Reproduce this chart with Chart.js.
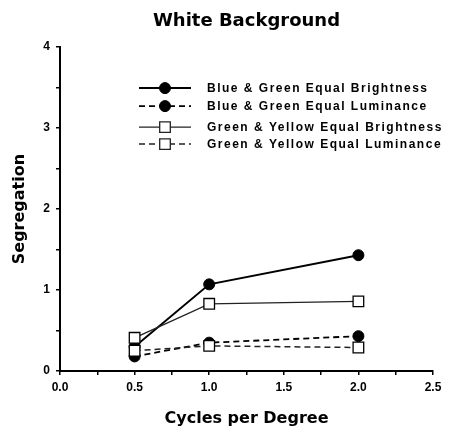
<!DOCTYPE html>
<html>
<head>
<meta charset="utf-8">
<script src="https://cdn.jsdelivr.net/npm/chart.js@4.4.1/dist/chart.umd.min.js"></script>
<style>
  html, body { margin: 0; padding: 0; background: #fff; }
  canvas { display: block; }
</style>
</head>
<body>
<canvas id="segChart" width="455" height="428"></canvas>
<script>
// values
const cycles = [0.5, 1.0, 2.0];
const blueGreenBrightness = [0.30, 1.07, 1.43];
const blueGreenLuminance = [0.18, 0.35, 0.43];
const greenYellowBrightness = [0.41, 0.83, 0.86];
const greenYellowLuminance = [0.25, 0.31, 0.29];
const seriesLabels = [
  "Blue & Green Equal Brightness",
  "Blue & Green Equal Luminance",
  "Green & Yellow Equal Brightness",
  "Green & Yellow Equal Luminance"
];

function points(values) {
  return cycles.map((c, i) => ({ x: c, y: values[i] }));
}

// legend drawn inside the plot, using the datasets' own styles
const insideLegend = {
  id: "insideLegend",
  afterDraw(chart) {
    const ctx = chart.ctx;
    const area = chart.chartArea;
    const rowY = [41, 59, 80, 97];
    chart.data.datasets.forEach((ds, i) => {
      const y = area.top + rowY[i];
      const x0 = area.left + 79, x1 = area.left + 131, xm = area.left + 105;
      ctx.save();
      ctx.strokeStyle = ds.borderColor;
      ctx.lineWidth = ds.borderWidth;
      ctx.setLineDash(ds.borderDash || []);
      ctx.beginPath();
      ctx.moveTo(x0, y);
      ctx.lineTo(x1, y);
      ctx.stroke();
      ctx.setLineDash([]);
      ctx.fillStyle = ds.pointBackgroundColor;
      ctx.lineWidth = ds.pointBorderWidth;
      ctx.beginPath();
      if (ds.pointStyle === "rect") {
        const s = Math.SQRT1_2 * ds.pointRadius;
        ctx.rect(xm - s, y - s, 2 * s, 2 * s);
      } else {
        ctx.arc(xm, y, ds.pointRadius, 0, Math.PI * 2);
      }
      ctx.fill();
      ctx.stroke();
      ctx.fillStyle = "#000";
      ctx.font = "bold 12px 'Liberation Sans', Arial, sans-serif";
      ctx.letterSpacing = "1.5px";
      ctx.textBaseline = "middle";
      ctx.textAlign = "left";
      ctx.fillText(ds.label, area.left + 147, y + 1);
      ctx.restore();
    });
  }
};

const tickFont = { family: "'Liberation Sans', Arial, sans-serif", size: 12, weight: "bold" };
const titleFont = { family: "'DejaVu Sans', sans-serif", size: 16, weight: "bold" };

new Chart(document.getElementById("segChart"), {
  type: "line",
  data: {
    datasets: [
      {
        label: seriesLabels[0],
        data: points(blueGreenBrightness),
        borderColor: "#000",
        borderWidth: 2,
        pointStyle: "circle",
        pointRadius: 5.5,
        pointBackgroundColor: "#000",
        pointBorderColor: "#000",
        pointBorderWidth: 1,
        order: 2
      },
      {
        label: seriesLabels[1],
        data: points(blueGreenLuminance),
        borderColor: "#000",
        borderWidth: 1.8,
        borderDash: [6, 4],
        pointStyle: "circle",
        pointRadius: 5.5,
        pointBackgroundColor: "#000",
        pointBorderColor: "#000",
        pointBorderWidth: 1,
        order: 2
      },
      {
        label: seriesLabels[2],
        data: points(greenYellowBrightness),
        borderColor: "#222",
        borderWidth: 1.3,
        pointStyle: "rect",
        pointRadius: 7.5,
        pointBackgroundColor: "#fff",
        pointBorderColor: "#000",
        pointBorderWidth: 1.3,
        order: 1
      },
      {
        label: seriesLabels[3],
        data: points(greenYellowLuminance),
        borderColor: "#222",
        borderWidth: 1.5,
        borderDash: [6, 4],
        pointStyle: "rect",
        pointRadius: 7.5,
        pointBackgroundColor: "#fff",
        pointBorderColor: "#000",
        pointBorderWidth: 1.3,
        order: 1
      }
    ]
  },
  options: {
    responsive: false,
    animation: false,
    layout: { padding: { left: 4, right: 22, top: 0, bottom: 0 } },
    plugins: {
      legend: { display: false },
      tooltip: { enabled: false },
      title: {
        display: true,
        fullSize: false,
        text: "White Background",
        color: "#000",
        font: { family: "'DejaVu Sans', sans-serif", size: 18, weight: "bold" },
        padding: { top: 11, bottom: 14.5 }
      }
    },
    scales: {
      x: {
        type: "linear",
        min: 0,
        max: 2.5,
        afterFit: s => { s.height = 57; },
        ticks: {
          stepSize: 0.25,
          autoSkip: false,
          maxRotation: 0,
          color: "#000",
          font: tickFont,
          padding: 5,
          callback: v => Math.abs(v * 2 - Math.round(v * 2)) < 1e-6 ? v.toFixed(1) : ""
        },
        grid: { drawOnChartArea: false, tickLength: 4, color: "#000", lineWidth: 1.5 },
        border: { color: "#000", width: 2 },
        title: { display: true, text: "Cycles per Degree", color: "#000", font: titleFont, padding: { top: 4, bottom: 0 } }
      },
      y: {
        min: 0,
        max: 4,
        afterFit: s => { s.width = 56; },
        ticks: {
          stepSize: 0.5,
          color: "#000",
          font: tickFont,
          padding: 6,
          callback: v => Number.isInteger(v) ? String(v) : ""
        },
        grid: { drawOnChartArea: false, tickLength: 4, color: "#000", lineWidth: 1.5 },
        border: { color: "#000", width: 2 },
        title: { display: true, text: "Segregation", color: "#000", font: titleFont, padding: { top: 6, bottom: 0 } }
      }
    }
  },
  plugins: [insideLegend]
});
</script>
</body>
</html>
